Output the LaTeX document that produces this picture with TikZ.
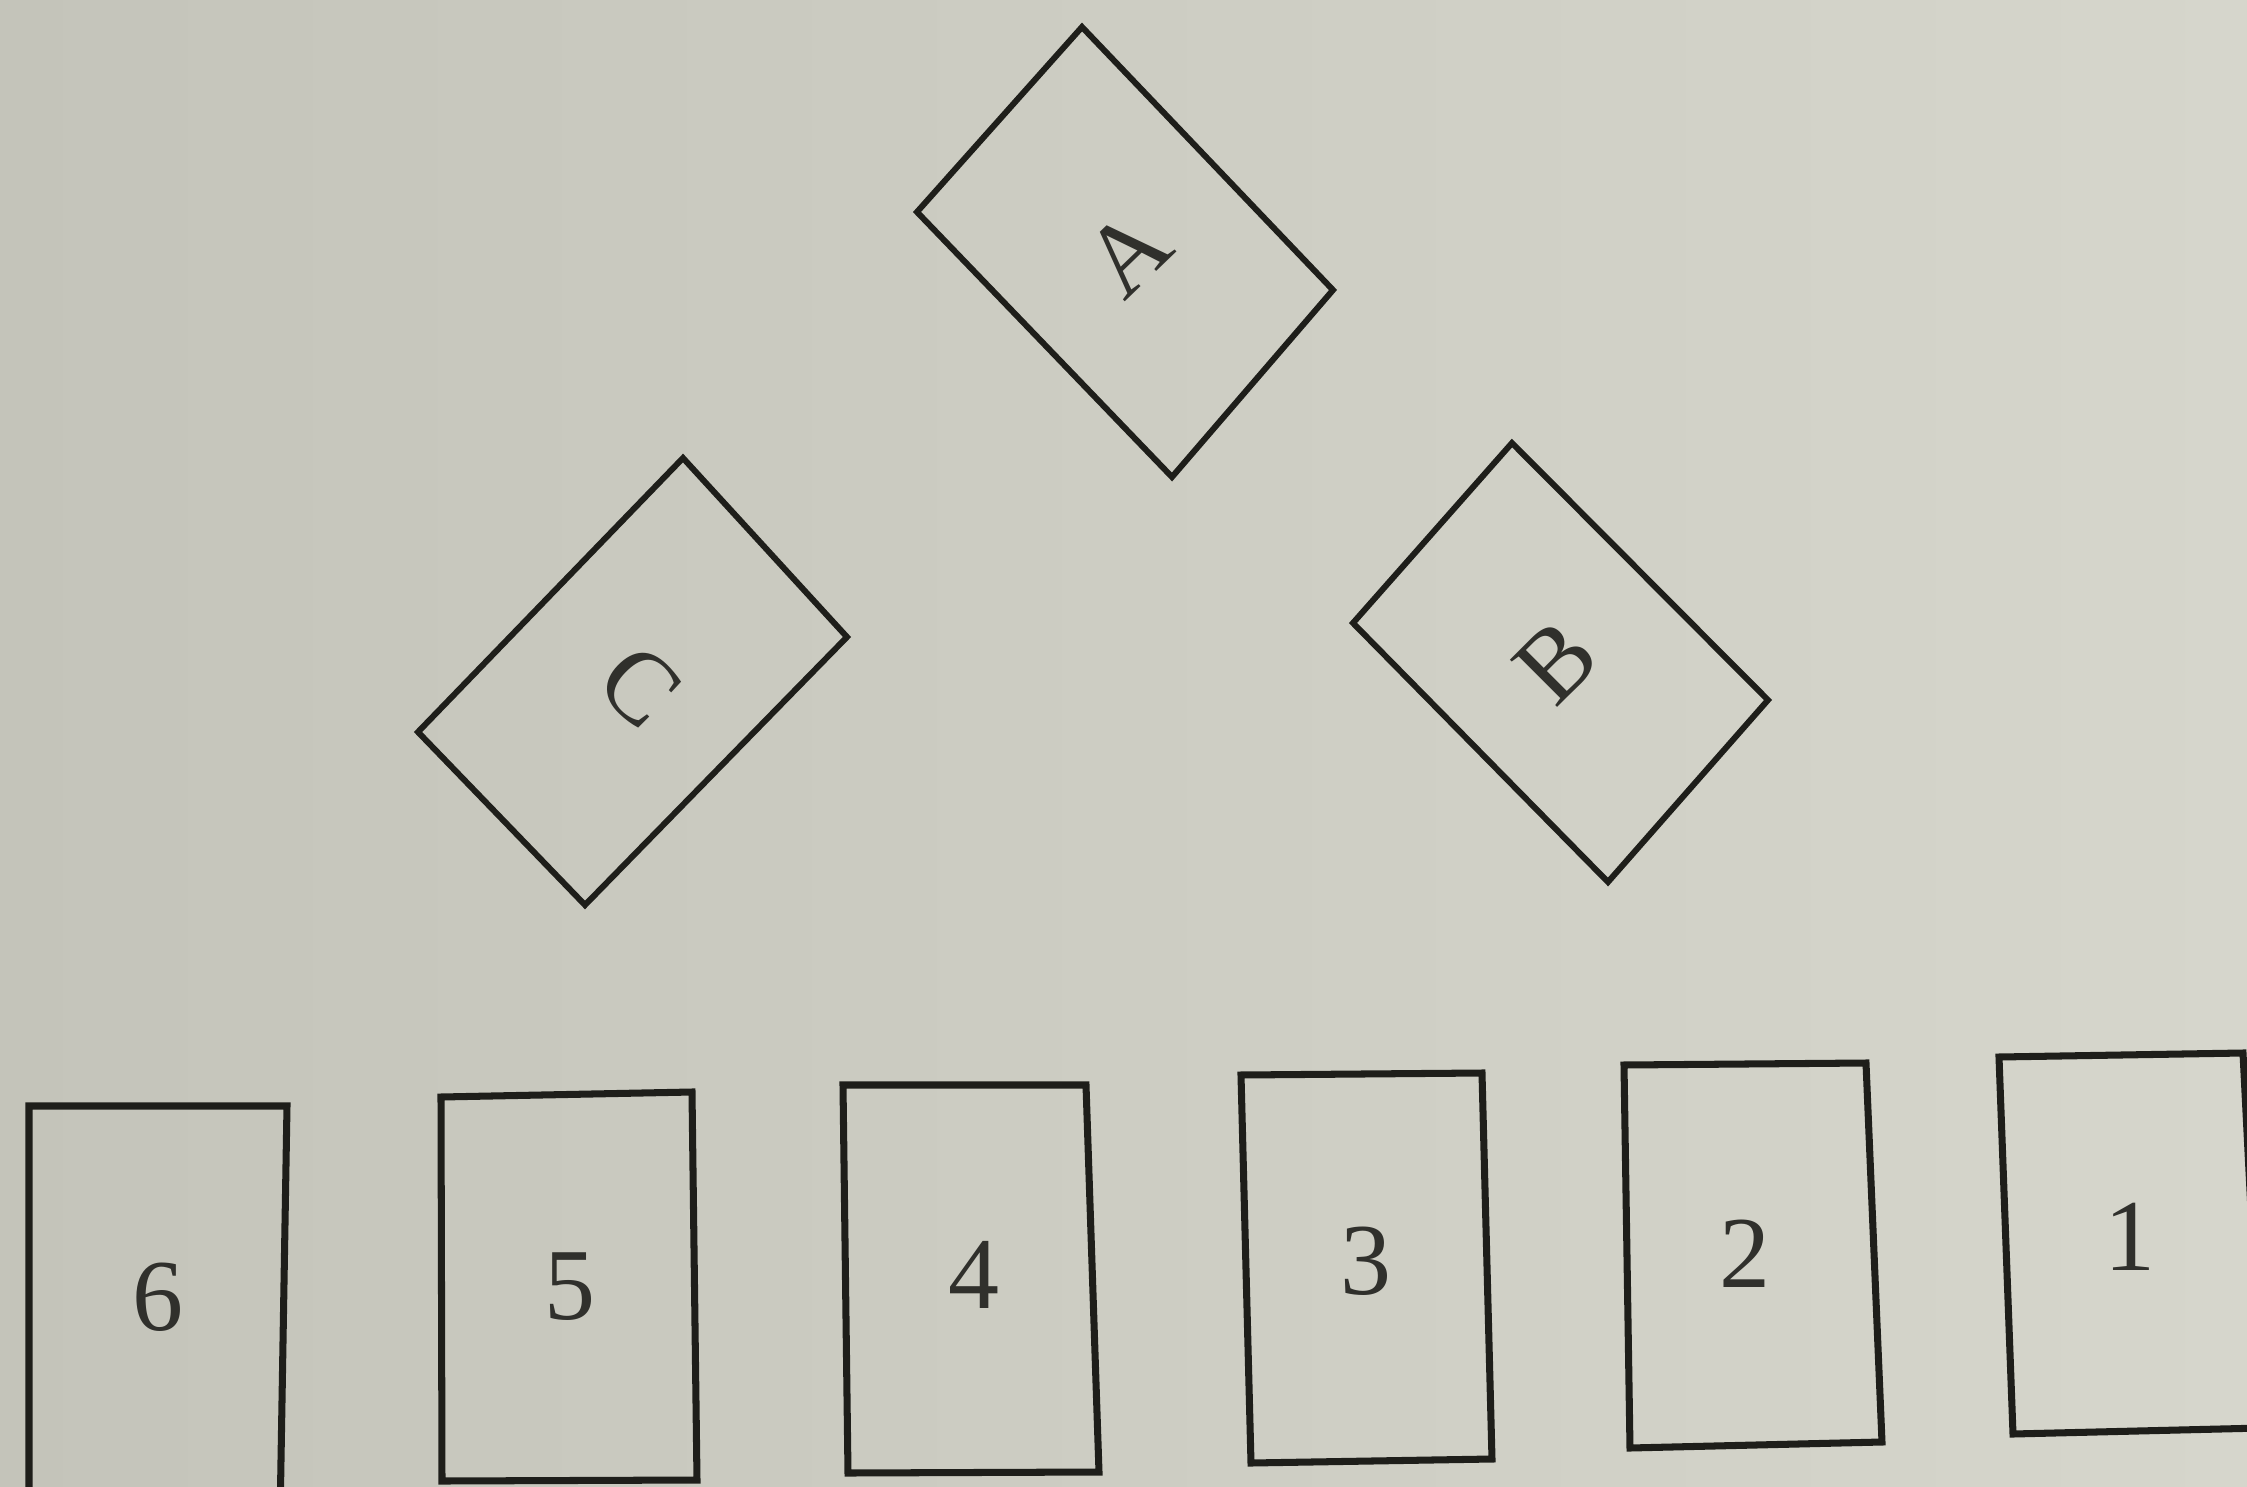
\documentclass[tikz,border=0pt]{standalone}
\usepackage{fontspec}
\setmainfont{Liberation Serif}
\definecolor{paperL}{RGB}{196,196,186}
\definecolor{paperR}{RGB}{214,214,204}
\definecolor{ink}{RGB}{30,30,26}
\tikzset{
  card/.style={draw=ink, line width=1.7pt, line join=miter},
  flatcard/.style={draw=ink, line width=2pt, line join=miter},
  lbl/.style={text=ink!92, font=\fontsize{29}{34}\selectfont, inner sep=0pt},
}
\begin{document}
\begin{tikzpicture}[x=0.01cm,y=-0.01cm]
\useasboundingbox (0,0) rectangle (2247,1487);
\shade[left color=paperL, right color=paperR] (0,0) rectangle (2247,1487);
\clip (0,0) rectangle (2247,1487);
% rotated cards
\draw[card] (1082,27) -- (1333,290) -- (1172,477) -- (917,212) -- cycle;
\node[lbl, rotate=44] (labA) at (1128,253) {A};
\draw[card] (1512,443) -- (1768,700) -- (1608,882) -- (1353,623) -- cycle;
\node[lbl, rotate=45] (labB) at (1556,662) {B};
\draw[card] (683,458) -- (847,637) -- (585,905) -- (418,732) -- cycle;
\node[lbl, rotate=-44] (labC) at (640,686) {C};
% row of cards
\draw[flatcard] (29,1106) -- (287,1106) -- (280,1520) -- (29,1520) -- cycle;
\node[lbl] (lab6) at (158,1297) {6};
\draw[flatcard] (441,1097) -- (692,1092) -- (697,1480) -- (442,1481) -- cycle;
\node[lbl] (lab5) at (570,1287) {5};
\draw[flatcard] (843,1085) -- (1086,1085) -- (1099,1472) -- (848,1473) -- cycle;
\node[lbl] (lab4) at (974,1275) {4};
\draw[flatcard] (1241,1075) -- (1482,1073) -- (1492,1459) -- (1251,1463) -- cycle;
\node[lbl] (lab3) at (1366,1261) {3};
\draw[flatcard] (1624,1065) -- (1866,1063) -- (1882,1442) -- (1630,1448) -- cycle;
\node[lbl] (lab2) at (1745,1254) {2};
\draw[flatcard] (1999,1057) -- (2243,1053) -- (2262,1428) -- (2013,1434) -- cycle;
\node[lbl] (lab1) at (2130,1237) {1};
\end{tikzpicture}
\end{document}
